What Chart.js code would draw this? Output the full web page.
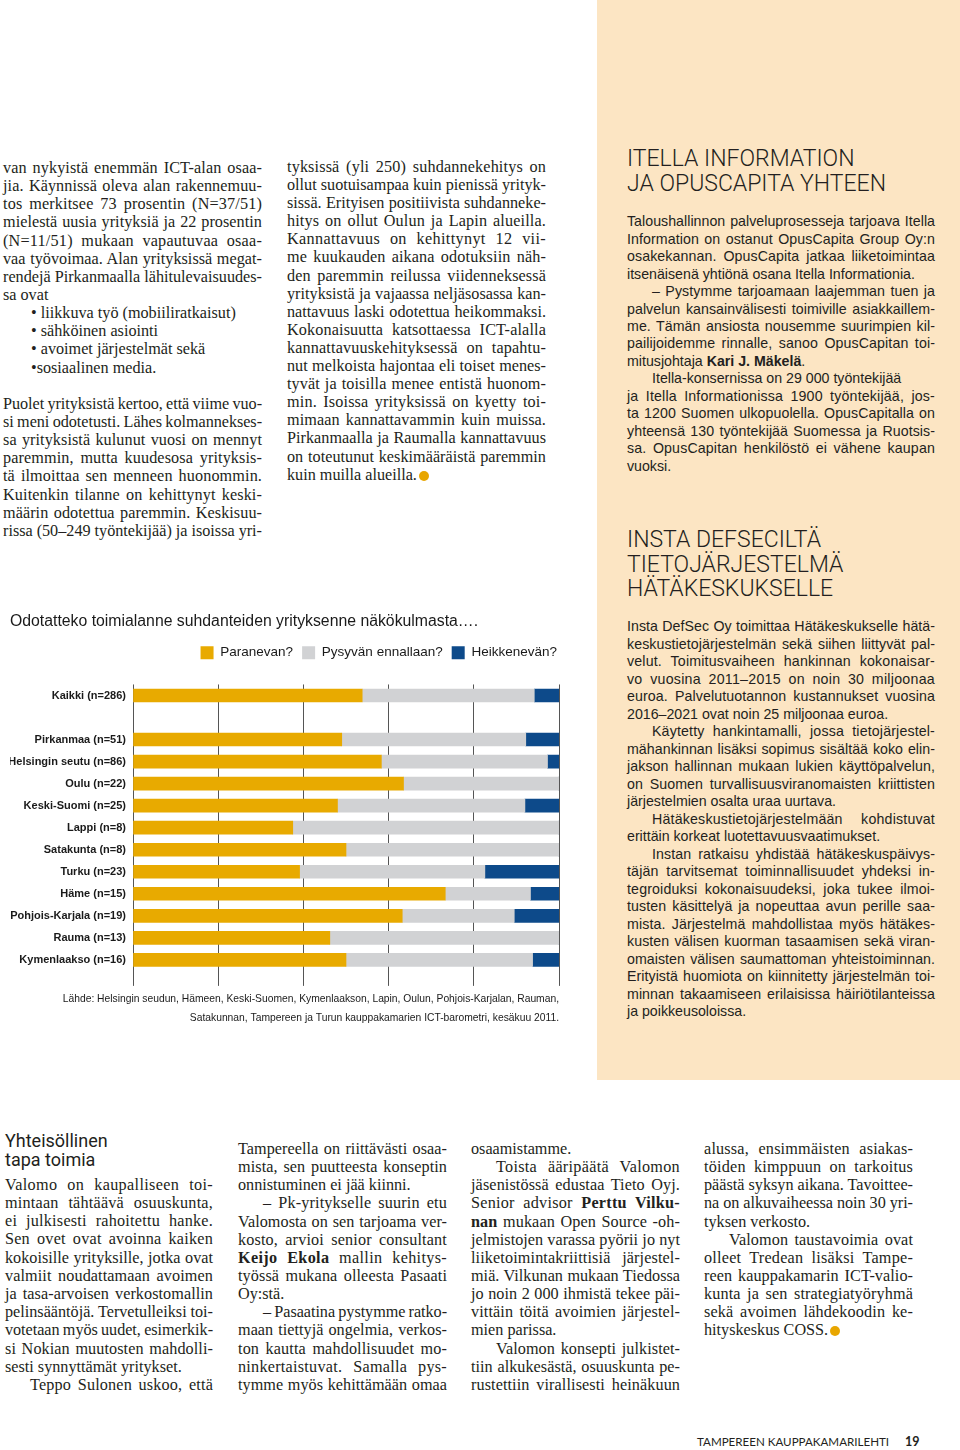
<!DOCTYPE html>
<html>
<head>
<meta charset="utf-8">
<script src="https://cdn.jsdelivr.net/npm/chart.js@4.4.1/dist/chart.umd.min.js"></script>
<style>
  body { margin: 0; width: 960px; height: 1450px; position: relative; background: #fff; color: #231f20; overflow: hidden; }
  #box { position: absolute; left: 597px; top: 0; width: 363px; height: 1080px; background: #fce5c3; }
  .col { position: absolute; }
  .ln { position: absolute; left: 0; white-space: nowrap; }
  .serif { font-family: "Liberation Serif", serif; font-size: 16.2px; }
  .sans { font-family: "Liberation Sans", sans-serif; font-size: 14.2px; }
  .head { position: absolute; font-family: Roboto, sans-serif; font-weight: 300; font-size: 23px; line-height: 24.5px; white-space: nowrap; }
  .sub { position: absolute; font-family: Roboto, sans-serif; font-size: 18px; line-height: 19.2px; white-space: nowrap; }
  .dot { display: inline-block; width: 10px; height: 10px; border-radius: 50%; background: #e8a600; margin-left: 2px; vertical-align: -1px; }
  #chartwrap { position: absolute; left: 0; top: 600px; }
  #foot { position: absolute; left: 697px; top: 1434px; font-family: Lato, sans-serif; font-size: 11.6px; white-space: nowrap; }
</style>
</head>
<body>
<div id="box"></div>
<div class="head" style="left:627px;top:147px">ITELLA INFORMATION<br>JA OPUSCAPITA YHTEEN</div>
<div class="head" style="left:627px;top:528px">INSTA DEFSECILTÄ<br>TIETOJÄRJESTELMÄ<br>HÄTÄKESKUKSELLE</div>
<div class="sub" style="left:5px;top:1131px">Yhteisöllinen<br>tapa toimia</div>
<div id="chartwrap"><canvas id="chart" width="570" height="432"></canvas></div>
<div id="foot">TAMPEREEN KAUPPAKAMARILEHTI <b style="margin-left:13px;font-size:12.5px">19</b></div>
<script>
// chart data
var categories = ['Kaikki (n=286)', '', 'Pirkanmaa (n=51)', 'Helsingin seutu (n=86)', 'Oulu (n=22)',
  'Keski-Suomi (n=25)', 'Lappi (n=8)', 'Satakunta (n=8)', 'Turku (n=23)', 'Häme (n=15)',
  'Pohjois-Karjala (n=19)', 'Rauma (n=13)', 'Kymenlaakso (n=16)'];
var seriesNames = ['Paranevan?', 'Pysyvän ennallaan?', 'Heikkenevän?'];
var paranevan   = [53.8, null, 49.0, 58.3, 63.5, 48.0, 37.5, 50.0, 39.1, 73.3, 63.2, 46.2, 50.0];
var pysyvan     = [40.4, null, 43.2, 39.0, 36.5, 44.0, 62.5, 50.0, 43.5, 20.0, 26.3, 53.8, 43.8];
var heikkenevan = [ 5.8, null,  7.8,  2.7,  0.0,  8.0,  0.0,  0.0, 17.4,  6.7, 10.5,  0.0,  6.2];
var xTicks = [0, 20, 40, 60, 80, 100];
var titleText = 'Odotatteko toimialanne suhdanteiden yrityksenne näkökulmasta….';
var sourceText = ['Lähde: Helsingin seudun, Hämeen, Keski-Suomen, Kymenlaakson, Lapin, Oulun, Pohjois-Karjalan, Rauman,',
  'Satakunnan, Tampereen ja Turun kauppakamarien ICT-barometri, kesäkuu 2011.'];
var colors = ['#e8aa00', '#d1d2d4', '#0d4a8a'];

// more room under the legend, and its row nudged to the right edge
var legendGap = {
  id: 'legendGap',
  beforeInit: function(chart) {
    var fit = chart.legend.fit;
    chart.legend.fit = function() { fit.call(this); this.height += 15; };
  },
  afterLayout: function(chart) {
    chart.legend.right += 7;
  }
};

var sets = [paranevan, pysyvan, heikkenevan].map(function(d, i) {
  return { label: seriesNames[i], data: d, backgroundColor: colors[i], borderColor: colors[i], borderWidth: 0, barThickness: 13 };
});

new Chart(document.getElementById('chart'), {
  type: 'bar',
  data: { labels: categories, datasets: sets },
  options: {
    responsive: false,
    animation: false,
    indexAxis: 'y',
    layout: { padding: { left: 10, right: 11, top: 0, bottom: 0 } },
    scales: {
      x: {
        stacked: true, min: 0, max: 100, z: 1,
        afterBuildTicks: function(s) { s.ticks = xTicks.map(function(v) { return { value: v }; }); },
        ticks: { display: false },
        grid: { color: '#555', lineWidth: 1, tickLength: 15, drawTicks: true },
        border: { display: false }
      },
      y: {
        stacked: true,
        grid: { display: false, drawTicks: false },
        border: { display: false },
        ticks: { color: '#1a1a1a', padding: 7, autoSkip: false, font: { family: 'Liberation Sans', size: 11, weight: 'bold' } },
        afterFit: function(s) { s.width = 123; }
      }
    },
    plugins: {
      title: { display: true, text: titleText, align: 'start', color: '#1a1a1a',
        font: { family: 'Liberation Sans', size: 15.8, weight: 'normal', lineHeight: 1.2 }, padding: { top: 12, bottom: 6 } },
      legend: { align: 'end', labels: { boxWidth: 13, boxHeight: 13, padding: 9, color: '#1a1a1a',
        font: { family: 'Liberation Sans', size: 13.5 } } },
      subtitle: { display: true, position: 'bottom', align: 'end', text: sourceText, color: '#1a1a1a',
        font: { family: 'Liberation Sans', size: 10.3, lineHeight: 1.85 }, padding: { top: 4, bottom: 4 } },
      tooltip: { enabled: false }
    }
  },
  plugins: [legendGap]
});

// page text: '>' = indented line, '|' at end = not justified
var columns = [
  { x: 3, y: 168, w: 259, lh: 18.15, cls: 'serif', lines: [
    'van nykyistä enemmän ICT-alan osaa-',
    'jia. Käynnissä oleva alan rakennemuu-',
    'tos merkitsee 73 prosentin (N=37/51)',
    'mielestä uusia yrityksiä ja 22 prosentin',
    '(N=11/51) mukaan vapautuvaa osaa-',
    'vaa työvoimaa. Alan yrityksissä megat-',
    'rendejä Pirkanmaalla lähitulevaisuudes-',
    'sa ovat|',
    '<span style="margin-left:28px">•</span> liikkuva työ (mobiiliratkaisut)|',
    '<span style="margin-left:28px">•</span> sähköinen asiointi|',
    '<span style="margin-left:28px">•</span> avoimet järjestelmät sekä|',
    '<span style="margin-left:28px">•</span>sosiaalinen media.|',
    '|',
    'Puolet yrityksistä kertoo, että viime vuo-',
    'si meni odotetusti. Lähes kolmannekses-',
    'sa yrityksistä kulunut vuosi on mennyt',
    'paremmin, mutta kuudesosa yrityksis-',
    'tä ilmoittaa sen menneen huonommin.',
    'Kuitenkin tilanne on kehittynyt keski-',
    'määrin odotettua paremmin. Keskisuu-',
    'rissa (50–249 työntekijää) ja isoissa yri-'] },
  { x: 287, y: 167, w: 259, lh: 18.1, cls: 'serif', lines: [
    'tyksissä (yli 250) suhdannekehitys on',
    'ollut suotuisampaa kuin pienissä yrityk-',
    'sissä. Erityisen positiivista suhdanneke-',
    'hitys on ollut Oulun ja Lapin alueilla.',
    'Kannattavuus on kehittynyt 12 vii-',
    'me kuukauden aikana odotuksiin näh-',
    'den paremmin reilussa viidenneksessä',
    'yrityksistä ja vajaassa neljäsosassa kan-',
    'nattavuus laski odotettua heikommaksi.',
    'Kokonaisuutta katsottaessa ICT-alalla',
    'kannattavuuskehityksessä on tapahtu-',
    'nut melkoista hajontaa eli toiset menes-',
    'tyvät ja toisilla menee entistä huonom-',
    'min. Isoissa yrityksissä on kyetty toi-',
    'mimaan kannattavammin kuin muissa.',
    'Pirkanmaalla ja Raumalla kannattavuus',
    'on toteutunut keskimääräistä paremmin',
    'kuin muilla alueilla.<span class="dot"></span>|'] },
  { x: 627, y: 222, w: 308, lh: 17.45, cls: 'sans', lines: [
    'Taloushallinnon palveluprosesseja tarjoava Itella',
    'Information on ostanut OpusCapita Group Oy:n',
    'osakekannan. OpusCapita jatkaa liiketoimintaa',
    'itsenäisenä yhtiönä osana Itella Informationia.|',
    '>– Pystymme tarjoamaan laajemman tuen ja',
    'palvelun kansainvälisesti toimiville asiakkaillem-',
    'me. Tämän ansiosta nousemme suurimpien kil-',
    'pailijoidemme rinnalle, sanoo OpusCapitan toi-',
    'mitusjohtaja <b>Kari J. Mäkelä</b>.|',
    '>Itella-konsernissa on 29 000 työntekijää|',
    'ja Itella Informationissa 1900 työntekijää, jos-',
    'ta 1200 Suomen ulkopuolella. OpusCapitalla on',
    'yhteensä 130 työntekijää Suomessa ja Ruotsis-',
    'sa. OpusCapitan henkilöstö ei vähene kaupan',
    'vuoksi.|'] },
  { x: 627, y: 627, w: 308, lh: 17.5, cls: 'sans', lines: [
    'Insta DefSec Oy toimittaa Hätäkeskukselle hätä-',
    'keskustietojärjestelmän sekä siihen liittyvät pal-',
    'velut. Toimitusvaiheen hankinnan kokonaisar-',
    'vo vuosina 2011–2015 on noin 30 miljoonaa',
    'euroa. Palvelutuotannon kustannukset vuosina',
    '2016–2021 ovat noin 25 miljoonaa euroa.|',
    '>Käytetty hankintamalli, jossa tietojärjestel-',
    'mähankinnan lisäksi sopimus sisältää koko elin-',
    'jakson hallinnan mukaan lukien käyttöpalvelun,',
    'on Suomen turvallisuusviranomaisten kriittisten',
    'järjestelmien osalta uraa uurtava.|',
    '>Hätäkeskustietojärjestelmään kohdistuvat',
    'erittäin korkeat luotettavuusvaatimukset.|',
    '>Instan ratkaisu yhdistää hätäkeskuspäivys-',
    'täjän tarvitsemat toiminnallisuudet yhdeksi in-',
    'tegroiduksi kokonaisuudeksi, joka tukee ilmoi-',
    'tusten käsittelyä ja nopeuttaa avun perille saa-',
    'mista. Järjestelmä mahdollistaa myös hätäkes-',
    'kusten välisen kuorman tasaamisen sekä viran-',
    'omaisten välisen saumattoman yhteistoiminnan.',
    'Erityistä huomiota on kiinnitetty järjestelmän toi-',
    'minnan takaamiseen erilaisissa häiriötilanteissa',
    'ja poikkeusoloissa.|'] },
  { x: 5, y: 1185, w: 208, lh: 18.2, cls: 'serif', lines: [
    'Valomo on kaupalliseen toi-',
    'mintaan tähtäävä osuuskunta,',
    'ei julkisesti rahoitettu hanke.',
    'Sen ovet ovat avoinna kaiken',
    'kokoisille yrityksille, jotka ovat',
    'valmiit noudattamaan avoimen',
    'ja tasa-arvoisen verkostomallin',
    'pelinsääntöjä. Tervetulleiksi toi-',
    'votetaan myös uudet, esimerkik-',
    'si Nokian muutosten mahdolli-',
    'sesti synnyttämät yritykset.|',
    '>Teppo Sulonen uskoo, että'] },
  { x: 238, y: 1149, w: 209, lh: 18.15, cls: 'serif', lines: [
    'Tampereella on riittävästi osaa-',
    'mista, sen puutteesta konseptin',
    'onnistuminen ei jää kiinni.|',
    '>– Pk-yritykselle suurin etu',
    'Valomosta on sen tarjoama ver-',
    'kosto, arvioi senior consultant',
    '<b>Keijo Ekola</b> mallin kehitys-',
    'työssä mukana olleesta Pasaati',
    'Oy:stä.|',
    '>– Pasaatina pystymme ratko-',
    'maan tiettyjä ongelmia, verkos-',
    'ton kautta mahdollisuudet mo-',
    'ninkertaistuvat. Samalla pys-',
    'tymme myös kehittämään omaa'] },
  { x: 471, y: 1149, w: 209, lh: 18.15, cls: 'serif', lines: [
    'osaamistamme.|',
    '>Toista ääripäätä Valomon',
    'jäsenistössä edustaa Tieto Oyj.',
    'Senior advisor <b>Perttu Vilku-</b>',
    '<b>nan</b> mukaan Open Source -oh-',
    'jelmistojen varassa pyörii jo nyt',
    'liiketoimintakriittisiä järjestel-',
    'miä. Vilkunan mukaan Tiedossa',
    'jo noin 2 000 ihmistä tekee päi-',
    'vittäin töitä avoimien järjestel-',
    'mien parissa.|',
    '>Valomon konsepti julkistet-',
    'tiin alkukesästä, osuuskunta pe-',
    'rustettiin virallisesti heinäkuun'] },
  { x: 704, y: 1149, w: 209, lh: 18.15, cls: 'serif', lines: [
    'alussa, ensimmäisten asiakas-',
    'töiden kimppuun on tarkoitus',
    'päästä syksyn aikana. Tavoittee-',
    'na on alkuvaiheessa noin 30 yri-',
    'tyksen verkosto.|',
    '>Valomon taustavoimia ovat',
    'olleet Tredean lisäksi Tampe-',
    'reen kauppakamarin ICT-valio-',
    'kunta ja sen strategiatyöryhmä',
    'sekä avoimen lähdekoodin ke-',
    'hityskeskus COSS.<span class="dot"></span>|'] }
];

columns.forEach(function(c) {
  var col = document.createElement('div');
  col.className = 'col ' + c.cls;
  col.style.left = c.x + 'px';
  col.style.top = (c.y - c.lh / 2) + 'px';
  col.style.width = c.w + 'px';
  document.body.appendChild(col);
  c.lines.forEach(function(t, i) {
    var indent = 0, just = true;
    if (t.charAt(0) == '>') { indent = 25; t = t.slice(1); }
    if (t.charAt(t.length - 1) == '|') { just = false; t = t.slice(0, -1); }
    var ln = document.createElement('div');
    ln.className = 'ln';
    ln.style.top = (i * c.lh) + 'px';
    ln.style.height = c.lh + 'px';
    ln.style.lineHeight = c.lh + 'px';
    ln.style.paddingLeft = indent + 'px';
    var sp = document.createElement('span');
    sp.innerHTML = t;
    ln.appendChild(sp);
    col.appendChild(ln);
    if (just) {
      // split the slack between letters and word gaps, like a typesetter would
      var txt = sp.textContent;
      var n = (txt.match(/ /g) || []).length;
      var slack = c.w - indent - sp.getBoundingClientRect().width;
      var ls = Math.max(-0.45, Math.min(0.45, slack * 0.35 / txt.length));
      sp.style.letterSpacing = ls + 'px';
      var w = sp.getBoundingClientRect().width;
      if (n > 0) sp.style.wordSpacing = ((c.w - indent - w) / n) + 'px';
    }
  });
});
</script>
</body>
</html>
